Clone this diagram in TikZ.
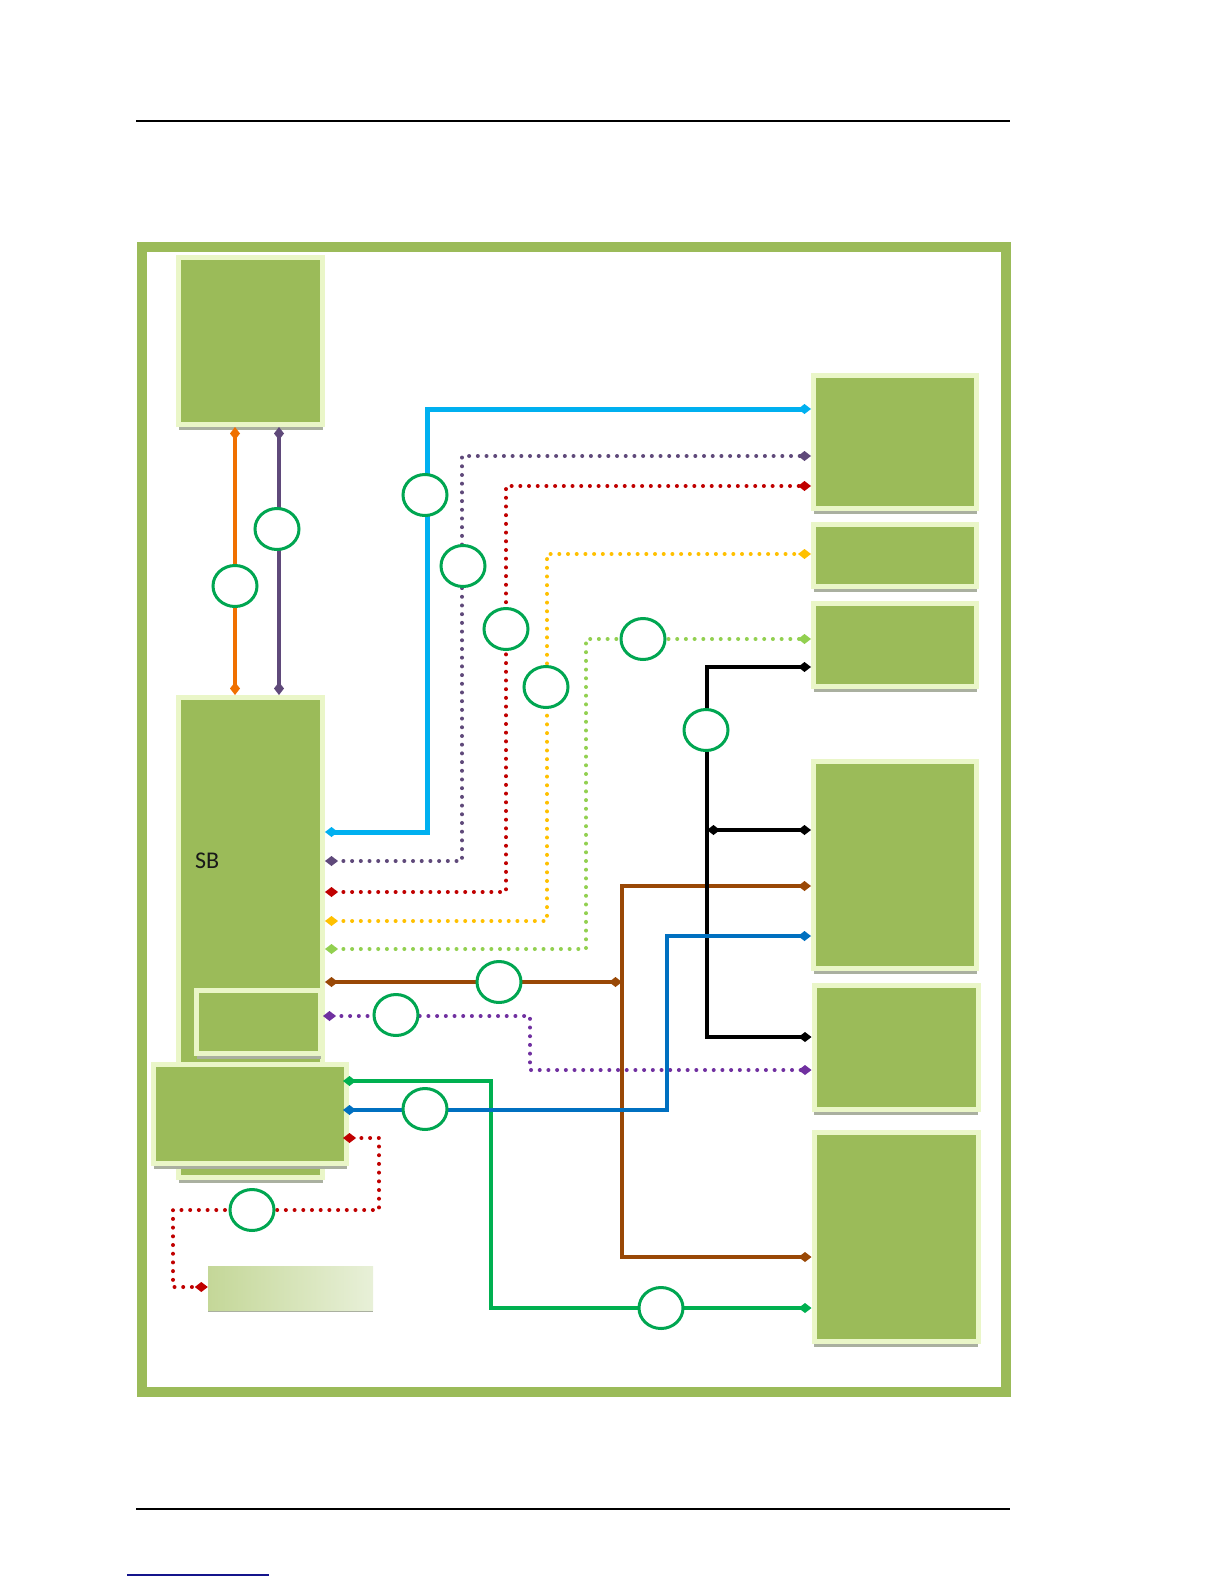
\documentclass[tikz,border=0pt]{standalone}
\usepackage{fontspec}
\setmainfont{Carlito}
\usetikzlibrary{arrows.meta,positioning,shapes.geometric,shadows}
\definecolor{chipgreen}{RGB}{155,187,89}
\definecolor{chipedge}{RGB}{234,246,200}
\definecolor{chipshadow}{RGB}{170,176,160}
\definecolor{ringgreen}{RGB}{0,166,81}
\definecolor{batleft}{RGB}{196,215,152}
\definecolor{batright}{RGB}{232,240,216}
\definecolor{lcyan}{RGB}{0,176,240}
\definecolor{lplum}{RGB}{95,73,122}
\definecolor{lred}{RGB}{192,0,0}
\definecolor{lyellow}{RGB}{255,192,0}
\definecolor{llime}{RGB}{146,208,80}
\definecolor{lbrown}{RGB}{153,72,6}
\definecolor{lviolet}{RGB}{112,48,160}
\definecolor{lgreen}{RGB}{0,176,80}
\definecolor{lblue}{RGB}{0,112,192}
\definecolor{lorange}{RGB}{240,112,0}
\definecolor{linkblue}{RGB}{20,20,140}

\begin{document}
\begin{tikzpicture}[x=1pt, y=-1pt,
  chip/.style={rectangle, fill=chipgreen, draw=chipedge, line width=5pt, inner sep=0pt,
    drop shadow={shadow xshift=0pt, shadow yshift=-5pt, fill=chipshadow, opacity=1}},
  batpanel/.style={rectangle, left color=batleft, right color=batright, inner sep=0pt,
    drop shadow={shadow xshift=0pt, shadow yshift=-2pt, fill=chipshadow, opacity=1}},
  ring/.style={ellipse, draw=ringgreen, line width=3pt, fill=white, inner sep=0pt,
    minimum width=44pt, minimum height=41pt},
  link/.style={line width=4pt, {Diamond[length=13pt,width=10pt]}-{Diamond[length=13pt,width=10pt]}},
  dots/.style={link, line cap=round, dash pattern=on 0pt off 8.7pt}]
\useasboundingbox (0,0) rectangle (1224,1584);

% Page rules
\draw[line width=1.5pt] (136,121) -- (1010,121);
\draw[line width=1.5pt] (136,1509) -- (1010,1509);
\draw[linkblue, line width=2pt] (127,1575) -- (269,1575);

% Board frame
\draw[chipgreen, line width=10pt] (141.5,247) rectangle (1006,1392);

% Left column
\node[chip, minimum width=144pt, minimum height=167pt] (cpu) at (250.5,341) {};
\node[chip, minimum width=144pt, minimum height=480pt] (sb) at (250.5,937.5) {};
\node[font=\fontsize{24}{28}\selectfont, text=black!90, anchor=west, inner sep=0pt] (sbname) at (195,861) {SB};
\node[chip, minimum width=124pt, minimum height=63pt] (sub) at (258.5,1022) {};
\node[chip, minimum width=193pt, minimum height=99pt] (low) at (250,1114) {};
\node[batpanel, minimum width=165pt, minimum height=44pt] (bat) at (290.5,1288) {};

% Right column
\node[chip, minimum width=163pt, minimum height=133pt] (ra) at (895,442) {};
\node[chip, minimum width=163pt, minimum height=62pt] (rb) at (895,555.5) {};
\node[chip, minimum width=163pt, minimum height=83pt] (rc) at (895,645) {};
\node[chip, minimum width=163pt, minimum height=207pt] (rd) at (895,865) {};
\node[chip, minimum width=164pt, minimum height=124pt] (re) at (896,1047.5) {};
\node[chip, minimum width=164pt, minimum height=209pt] (rf) at (896,1237) {};

% Junctions
\coordinate (bj) at (622,982);
\coordinate (kj) at (707,830);

% CPU <-> SB
\draw[link, lorange] (cpu.south -| 235,0) -- (sb.north -| 235,0);
\draw[link, lplum] (cpu.south -| 279,0) -- (sb.north -| 279,0);

% SB <-> right column
\draw[link, lcyan, line width=5pt] (sb.east |- 0,832) -| (427,409) -- (ra.west |- 0,409);
\draw[dots, lplum] (sb.east |- 0,861) -| (462,456) -- (ra.west |- 0,456);
\draw[dots, lred] (sb.east |- 0,892) -| (506,486) -- (ra.west |- 0,486);
\draw[dots, lyellow] (sb.east |- 0,921) -| (547,554) -- (rb.west |- 0,554);
\draw[dots, llime] (sb.east |- 0,949) -| (586,639) -- (rc.west |- 0,639);
\draw[link, lbrown] (sb.east |- bj) -- (bj);
\draw[link, lbrown] (rd.west |- 0,886) -| (622,1257) -- (rf.west |- 0,1257);
\draw[link, black] (rc.west |- 0,667) -| (707,1037) -- (re.west |- 0,1037);
\draw[link, black] (kj) -- (rd.west |- kj);
\draw[dots, lviolet] (sub.east |- 0,1016) -| (530,1070) -- (re.west |- 0,1070);

% Lower box <-> right column
\draw[link, lgreen, line width=4.5pt] ([xshift=-6pt]low.east |- 0,1081) -| (491,1308) -- (rf.west |- 0,1308);
\draw[link, lblue] ([xshift=-6pt]low.east |- 0,1110) -| (667,936) -- (rd.west |- 0,936);
\draw[dots, lred] ([xshift=-6pt]low.east |- 0,1138) -| (379,1210) -| (173,1287) -- (bat.west |- 0,1287);

% Bus rings
\node[ring] (ro) at (235,586) {};
\node[ring] (rp) at (277,529) {};
\node[ring] (rcy) at (425,495) {};
\node[ring] (rpl) at (463,566) {};
\node[ring] (rrd) at (506,629) {};
\node[ring] (ryl) at (546,687) {};
\node[ring] (rlm) at (643,639) {};
\node[ring] (rbk) at (706,730) {};
\node[ring] (rbr) at (499,982) {};
\node[ring] (rvi) at (396,1015) {};
\node[ring] (rbl) at (425,1109) {};
\node[ring] (rrb) at (252,1210) {};
\node[ring] (rgr) at (661,1308) {};

\end{tikzpicture}
\end{document}
